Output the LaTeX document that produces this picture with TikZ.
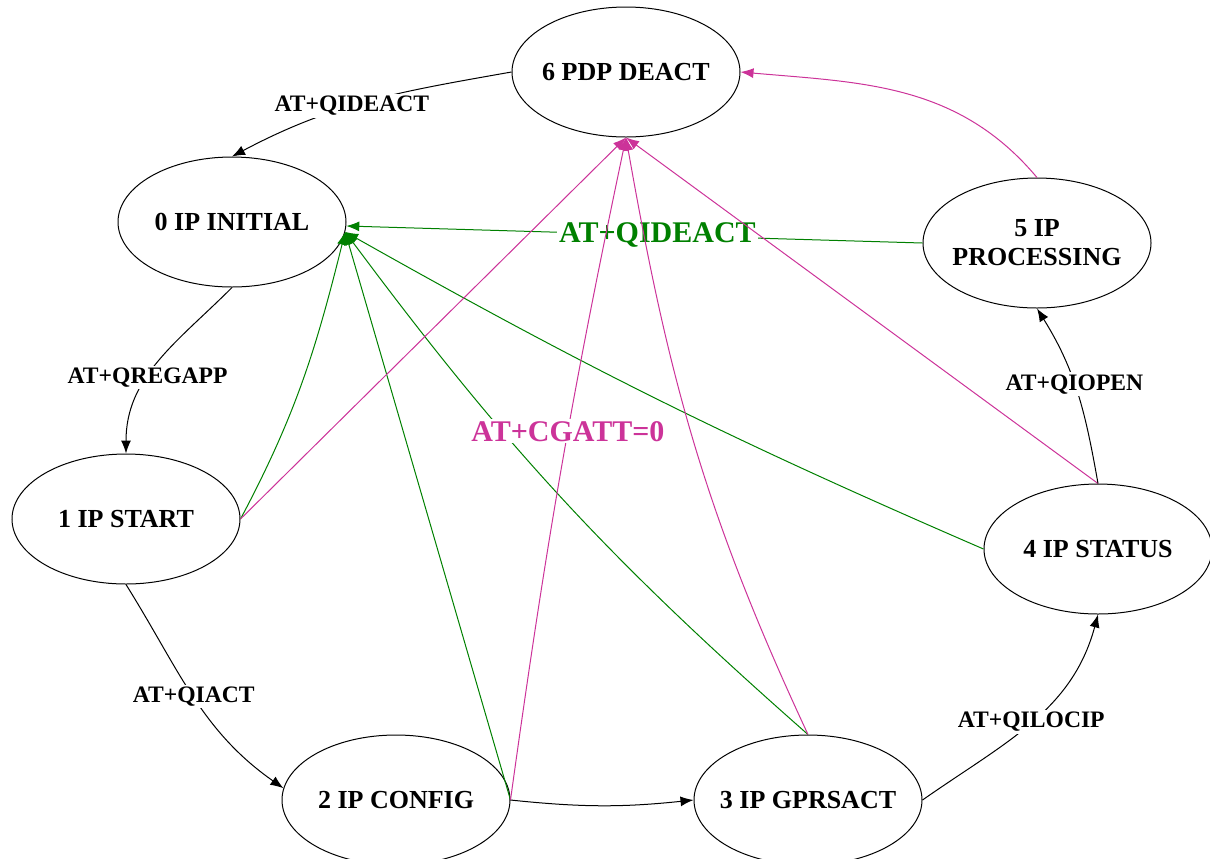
\documentclass[tikz,border=0pt]{standalone}
\usepackage{fontspec}
\setmainfont{Liberation Serif}
\usetikzlibrary{shapes,arrows.meta,positioning}
\definecolor{deactpink}{RGB}{204,51,153}
\definecolor{deactgreen}{RGB}{0,128,0}
\tikzset{ipstate/.style={draw, ellipse, minimum width=114pt, minimum height=65pt,
    inner xsep=-4pt, inner ysep=0pt, align=center, font=\bfseries\fontsize{13}{14.5}\selectfont},
cmd/.style={fill=white, inner sep=1pt, font=\bfseries\fontsize{11.8}{13}\selectfont},
bigcmd/.style={fill=white, inner sep=1pt, font=\bfseries\fontsize{15}{17}\selectfont}
}

\begin{document}
\begin{tikzpicture}[x=0.5pt, y=0.5pt, line width=0.5pt,
    >={Latex[length=6.5pt,width=5pt]}]
        \useasboundingbox (0,0) rectangle (1210,-858);
        \node[ipstate] (s_6) at (626,-72)   {6 PDP DEACT};
        \node[ipstate] (s_0) at (232,-222)  {0 IP INITIAL};
        \node[ipstate] (s_1) at (126,-519)  {1 IP START};
        \node[ipstate] (s_2) at (396,-800)  {2 IP CONFIG};
        \node[ipstate] (s_3) at (808,-800)  {3 IP GPRSACT};
        \node[ipstate] (s_4) at (1098,-549) {4 IP STATUS};
        \node[ipstate] (s_5) at (1037,-243) {5 IP\\PROCESSING};

        % green: back to initial
        \path[->, deactgreen] (s_1.east)  edge [out=62, in=-104] (s_0.-5)
                              (s_2.east)  edge                   (s_0.-5)
                              (s_3.north) edge [bend left=6]     (s_0.-5)
                              (s_4.west)  edge [bend left=3]     (s_0.-5)
                              (s_5.west)  edge node [bigcmd, text=deactgreen, pos=0.46] {AT+QIDEACT} (s_0.-2);

        % pink: back to pdp deact
        \path[->, deactpink] (s_1.east)  edge                  (s_6.south)
                             (s_2.east)  edge [bend left=2] node [bigcmd, text=deactpink, pos=0.56] {AT+CGATT=0} (s_6.south)
                             (s_3.north) edge [out=115, in=-80] (s_6.south)
                             (s_4.north) edge                  (s_6.south)
                             (s_5.north) edge [out=130, in=-5] (s_6.east);

        % black: normal flow
        \path[->] (s_6.west)  edge [out=190, in=28]  node [cmd, pos=0.56] {AT+QIDEACT} (s_0.north)
                  (s_0.south) edge [out=-135, in=90] node [cmd, pos=0.6]  {AT+QREGAPP} (s_1.north)
                  (s_1.south) edge [out=-58, in=145] node [cmd, pos=0.5]  {AT+QIACT}   (s_2.174)
                  (s_2.east)  edge [bend right=6]                                   (s_3.west)
                  (s_3.east)  edge [out=35, in=-105] node [cmd, pos=0.5]  {AT+QILOCIP} (s_4.south)
                  (s_4.north) edge [out=100, in=-58] node [cmd, pos=0.55] {AT+QIOPEN}  (s_5.south);
\end{tikzpicture}
\end{document}
